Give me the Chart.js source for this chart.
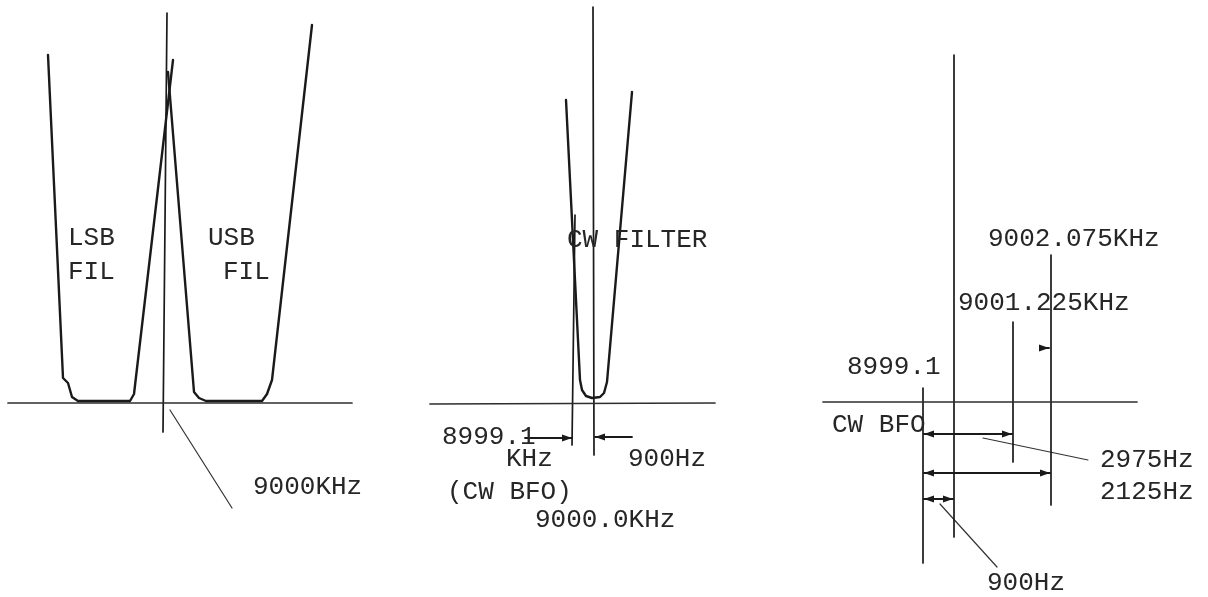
<!DOCTYPE html>
<html>
<head>
<meta charset="utf-8">
<script src="https://cdn.jsdelivr.net/npm/chart.js@4.4.1/dist/chart.umd.min.js"></script>
<style>
  html, body { margin: 0; padding: 0; background: #fff; }
  #wrap { width: 1208px; height: 597px; position: relative; }
</style>
</head>
<body>
<div id="wrap"><canvas id="diagram"></canvas></div>
<script>
// diagram units: x to the right, y downwards (same size as the sheet)
// filter response curves
var lsbFilter = [[48,55],[63,378],[68,383],[72,397],[78,401],[130,401],[134,394],[173,60]];
var usbFilter = [[168,72],[194,392],[199,398],[206,401],[262,401],[267,394],[272,380],[312,25]];
var cwFilter  = [[566,100],[580,380],[582,390],[586,396],[592,398],[600,397],[604,393],[607,382],[632,92]];

// straight strokes: axes, markers, leader lines
var baselines   = [[[8,403],[352,403]], [[430,404],[715,403]], [[823,402],[1137,402]]];
var markers     = [[[167,13],[163,432]], [[593,7],[594,455]], [[575,215],[572,445]],
                   [[954,55],[954,537]], [[923,388],[923,563]], [[1013,322],[1013,462]], [[1051,255],[1051,505]]];
var leaders     = [[[170,410],[232,508]], [[983,438],[1088,460]], [[940,504],[997,567]]];

// dimension arrows: from, to, head at start, head at end
var arrows = [
  [[525,438],[572,438], false, true],
  [[632,437],[595,437], false, true],
  [[924,434],[1012,434], true, true],
  [[924,473],[1050,473], true, true],
  [[924,499],[953,499], true, true],
  [[1040,348],[1049,348], false, true]
];

// typed labels
var labelText = ['LSB','FIL','USB','FIL','9000KHz',
                 'CW FILTER','8999.1','KHz','(CW BFO)','9000.0KHz','900Hz',
                 '9002.075KHz','9001.225KHz','8999.1','CW BFO','2975Hz','2125Hz','900Hz'];
var labelX = [68,68,208,223,253, 567,442,506,447,535,628, 988,958,847,832,1100,1100,987];
var labelY = [238,272,238,272,487, 240,437,459,492,520,459, 239,303,367,425,460,492,583];

var INK = '#1a1a1a';

function pts(list) {
  return list.map(function(p) { return {x: p[0], y: p[1]}; });
}

var datasets = [];
[lsbFilter, usbFilter, cwFilter].forEach(function(c) {
  datasets.push({ data: pts(c), borderColor: INK, borderWidth: 2.4 });
});
baselines.forEach(function(s) {
  datasets.push({ data: pts(s), borderColor: '#2e2e2e', borderWidth: 1.7 });
});
markers.forEach(function(s) {
  datasets.push({ data: pts(s), borderColor: INK, borderWidth: 1.7 });
});
leaders.forEach(function(s) {
  datasets.push({ data: pts(s), borderColor: '#333', borderWidth: 1.2 });
});
arrows.forEach(function(a) {
  datasets.push({ data: pts([a[0], a[1]]), borderColor: INK, borderWidth: 1.8 });
});

var annotate = {
  id: 'annotate',
  afterDatasetsDraw: function(chart) {
    var c = chart.ctx, sx = chart.scales.x, sy = chart.scales.y;
    c.save();
    c.fillStyle = INK;
    function head(from, to) {
      var x1 = sx.getPixelForValue(from[0]), y1 = sy.getPixelForValue(from[1]);
      var x2 = sx.getPixelForValue(to[0]), y2 = sy.getPixelForValue(to[1]);
      var ang = Math.atan2(y2 - y1, x2 - x1), len = 10, w = 3.5;
      c.beginPath();
      c.moveTo(x2, y2);
      c.lineTo(x2 - len * Math.cos(ang) + w * Math.sin(ang), y2 - len * Math.sin(ang) - w * Math.cos(ang));
      c.lineTo(x2 - len * Math.cos(ang) - w * Math.sin(ang), y2 - len * Math.sin(ang) + w * Math.cos(ang));
      c.closePath();
      c.fill();
    }
    arrows.forEach(function(a) {
      if (a[2]) head(a[1], a[0]);
      if (a[3]) head(a[0], a[1]);
    });
    c.fillStyle = '#262626';
    c.font = '26px "Liberation Mono", "DejaVu Sans Mono", monospace';
    c.textAlign = 'left';
    c.textBaseline = 'middle';
    labelText.forEach(function(t, i) {
      c.fillText(t, sx.getPixelForValue(labelX[i]), sy.getPixelForValue(labelY[i]));
    });
    c.restore();
  }
};

new Chart(document.getElementById('diagram'), {
  type: 'scatter',
  data: { datasets: datasets },
  options: {
    responsive: true,
    maintainAspectRatio: false,
    animation: false,
    layout: { padding: 0 },
    elements: {
      point: { radius: 0, hoverRadius: 0 },
      line: { fill: false, tension: 0, borderCapStyle: 'round', borderJoinStyle: 'round' }
    },
    datasets: { scatter: { showLine: true } },
    scales: {
      x: { type: 'linear', min: 0, max: 1208, display: false },
      y: { type: 'linear', min: 0, max: 597, reverse: true, display: false }
    },
    plugins: {
      legend: { display: false },
      tooltip: { enabled: false }
    }
  },
  plugins: [annotate]
});
</script>
</body>
</html>
